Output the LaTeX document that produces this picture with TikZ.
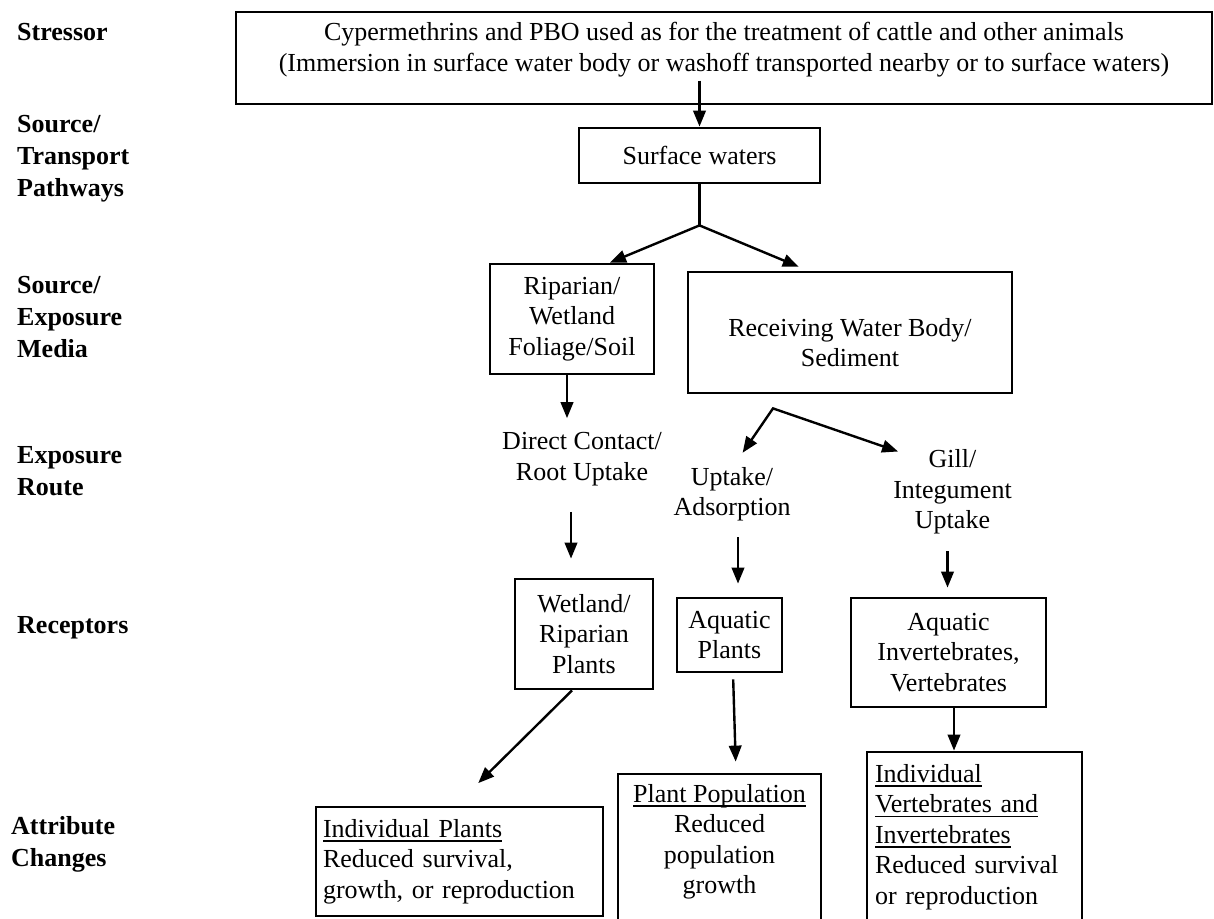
\documentclass[tikz,border=0pt]{standalone}
\usepackage{fontspec}
\setmainfont{Liberation Serif}
\usetikzlibrary{arrows.meta,positioning}
\newcommand{\undl}[1]{\leavevmode\setbox0\hbox{#1}\rlap{\vrule height -3pt depth 4.8pt width \wd0}\box0}

\begin{document}
\begin{tikzpicture}[x=1pt, y=-1pt, every node/.style={font=\fontsize{26}{30.5}\selectfont, inner sep=0pt, align=center},
      box/.style={draw, line width=2.8pt},
      lbl/.style={anchor=west, align=left, font=\fontsize{26}{32}\selectfont\bfseries},
      arr/.style={-{Triangle[length=16pt,width=12.5pt]}, line width=2.4pt},
      fork/.style={{Triangle[length=16pt,width=12.5pt]}-{Triangle[length=16pt,width=12.5pt]}, line width=2.4pt, line join=miter}]
    \useasboundingbox (0,0) rectangle (1214,918);
    \clip (0,0) rectangle (1214,918);
    \node[lbl] (lstress) at (17,32) {Stressor};
    \node[lbl] (lpath) at (17,159) {Source/\\Transport\\Pathways};
    \node[lbl] (lmedia) at (17,317) {Source/\\Exposure\\Media};
    \node[lbl] (lroute) at (17,471) {Exposure\\Route};
    \node[lbl] (lrecep) at (17,628) {Receptors};
    \node[lbl] (lattr) at (11,844) {Attribute\\Changes};
    \node[box, minimum width=976, minimum height=92] (stressor) at (724,58) {Cypermethrins and PBO used as for the treatment of cattle and other animals\\(Immersion in surface water body or washoff transported nearby or to surface waters)\rule[-22pt]{0pt}{22pt}};
    \node[box, minimum width=241, minimum height=55] (surf) at (699.5,155.5) {Surface waters};
    \node[box, minimum width=164, minimum height=110] (ripsoil) at (572,319) {Riparian/\\Wetland\\Foliage/Soil};
    \node[box, minimum width=324, minimum height=121] (rwb) at (850,332.5) {\rule{0pt}{38pt}Receiving Water Body/\\Sediment};
    \node (direct) at (582,459) {Direct Contact/\\Root Uptake};
    \node (uptake) at (732,494) {Uptake/\\Adsorption};
    \node (gill) at (952.5,492) {Gill/\\Integument\\Uptake};
    \node[box, minimum width=138, minimum height=110] (wetplants) at (584,634) {Wetland/\\Riparian\\Plants};
    \node[box, minimum width=105, minimum height=74] (aqplants) at (729.5,635) {Aquatic\\Plants};
    \node[box, minimum width=195, minimum height=109] (aqinv) at (948.5,652.5) {Aquatic\\Invertebrates,\\Vertebrates};
    \node[box, minimum width=287, minimum height=109, text width=273, align=left] (indplants) at (459.5,861.5) {\undl{Individual Plants}\\Reduced survival,\\growth, or reproduction};
    \node[box, minimum width=203, minimum height=166] (plantpop) at (719.5,857) {\undl{Plant Population}\\Reduced\\population\\growth\rule[-36pt]{0pt}{36pt}};
    \node[box, minimum width=215, minimum height=188, text width=199, align=left] (indvert) at (974.5,846) {\undl{Individual}\\\undl{Vertebrates and}\\\undl{Invertebrates}\\Reduced survival\\or reproduction\rule[-24pt]{0pt}{24pt}};
    \coordinate (fork1) at ([yshift=-41pt]surf.south);
    \coordinate (fork2) at ([xshift=-77pt,yshift=-14pt]rwb.south);
    \draw[arr] ([yshift=46pt]surf.north) -- (surf.north);
    \draw[line width=2.4pt] (surf.south) -- (fork1);
    \draw[fork, shorten >=10pt] ([xshift=38pt]ripsoil.north) -- (fork1) -- ([xshift=-42pt]rwb.north);
    \draw[arr, shorten >=14pt] ([xshift=-5pt]ripsoil.south) -- ([xshift=-5pt]ripsoil.south |- direct.north);
    \draw[arr, shorten <=26pt, shorten >=19pt] ([xshift=-11pt]direct.south) -- ([xshift=-11pt]direct.south |- wetplants.north);
    \draw[fork, shorten <=17pt] ([xshift=1pt]uptake.north) -- (fork2) -- ([xshift=5pt,yshift=-2pt]gill.north west);
    \draw[arr, shorten <=16pt, shorten >=13pt] ([xshift=6pt]uptake.south) -- ([xshift=6pt]uptake.south |- aqplants.north);
    \draw[arr, shorten <=17pt, shorten >=9pt] ([xshift=-5pt]gill.south) -- ([xshift=-5pt]gill.south |- aqinv.north);
    \draw[arr] ([xshift=5.5pt]aqinv.south) -- ([xshift=5.5pt]aqinv.south |- indvert.north);
    \draw[arr, shorten >=32pt] ([xshift=-12pt]wetplants.south) -- ([xshift=-4pt]indplants.north);
    \draw[arr, shorten <=6pt, shorten >=11pt] ([xshift=3.5pt]aqplants.south) -- ([xshift=16.5pt]plantpop.north);
  \end{tikzpicture}
\end{document}
